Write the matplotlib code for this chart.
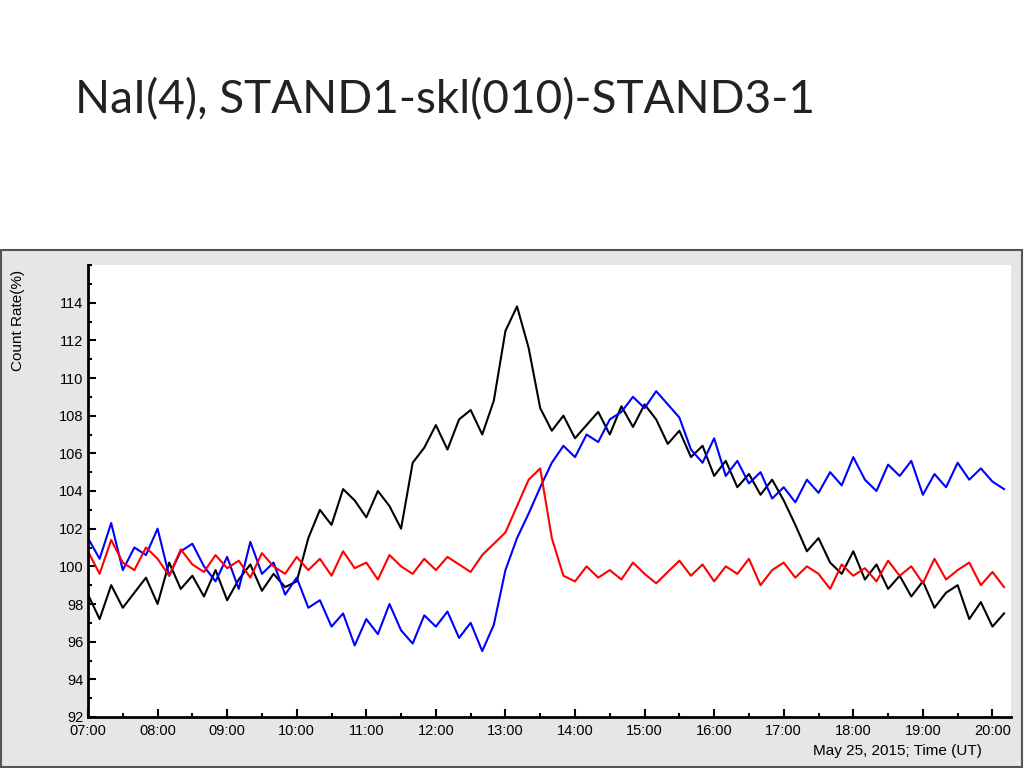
import matplotlib
matplotlib.use('Agg')
import matplotlib.pyplot as plt
import numpy as np
from matplotlib.patches import Rectangle
from matplotlib.ticker import MultipleLocator

plt.rcParams['font.family'] = ['Liberation Sans', 'DejaVu Sans']

# -----------------------------------------------------------------------------
# data: 10-minute samples, 07:00 .. 20:10 UT

t0, dt = 7.0, 10 / 60
black = [98.5, 97.2, 99.0, 97.8, 98.6, 99.4, 98.0, 100.2, 98.8, 99.5,
         98.4, 99.8, 98.2, 99.3, 100.1, 98.7, 99.6, 98.9, 99.2, 101.5,
         103.0, 102.2, 104.1, 103.5, 102.6, 104.0, 103.2, 102.0, 105.5, 106.3,
         107.5, 106.2, 107.8, 108.3, 107.0, 108.8, 112.5, 113.8, 111.6, 108.4,
         107.2, 108.0, 106.8, 107.5, 108.2, 107.0, 108.5, 107.4, 108.6, 107.8,
         106.5, 107.2, 105.8, 106.4, 104.8, 105.6, 104.2, 104.9, 103.8, 104.6,
         103.5, 102.2, 100.8, 101.5, 100.2, 99.6, 100.8, 99.3, 100.1, 98.8,
         99.5, 98.4, 99.2, 97.8, 98.6, 99.0, 97.2, 98.1, 96.8, 97.5]
blue = [101.5, 100.4, 102.3, 99.8, 101.0, 100.6, 102.0, 99.5, 100.8, 101.2,
        100.0, 99.2, 100.5, 98.8, 101.3, 99.6, 100.2, 98.5, 99.4, 97.8,
        98.2, 96.8, 97.5, 95.8, 97.2, 96.4, 98.0, 96.6, 95.9, 97.4,
        96.8, 97.6, 96.2, 97.0, 95.5, 96.9, 99.8, 101.5, 102.8, 104.2,
        105.5, 106.4, 105.8, 107.0, 106.6, 107.8, 108.2, 109.0, 108.4, 109.3,
        108.6, 107.9, 106.2, 105.5, 106.8, 104.8, 105.6, 104.4, 105.0, 103.6,
        104.2, 103.4, 104.6, 103.9, 105.0, 104.3, 105.8, 104.6, 104.0, 105.4,
        104.8, 105.6, 103.8, 104.9, 104.2, 105.5, 104.6, 105.2, 104.5, 104.1]
red = [100.8, 99.6, 101.4, 100.2, 99.8, 101.0, 100.4, 99.5, 100.9, 100.1,
       99.7, 100.6, 99.9, 100.3, 99.4, 100.7, 100.0, 99.6, 100.5, 99.8,
       100.4, 99.5, 100.8, 99.9, 100.2, 99.3, 100.6, 100.0, 99.6, 100.4,
       99.8, 100.5, 100.1, 99.7, 100.6, 101.2, 101.8, 103.2, 104.6, 105.2,
       101.5, 99.5, 99.2, 100.0, 99.4, 99.8, 99.3, 100.2, 99.6, 99.1,
       99.7, 100.3, 99.5, 100.1, 99.2, 100.0, 99.6, 100.4, 99.0, 99.8,
       100.2, 99.4, 100.0, 99.6, 98.8, 100.1, 99.5, 99.9, 99.2, 100.3,
       99.5, 100.0, 99.1, 100.4, 99.3, 99.8, 100.2, 99.0, 99.7, 98.9]
hours = t0 + dt * np.arange(len(black))
xticks = list(range(7, 21))
xticklabels = ['%02d:00' % h for h in xticks]

# -----------------------------------------------------------------------------
# plot

fig = plt.figure(figsize=(10.24, 7.68), dpi=100)
fig.patches.append(Rectangle((0.001, 0.001), 0.997, 0.673, transform=fig.transFigure,
                             facecolor='#e6e6e6', edgecolor='#555555', lw=1.5,
                             zorder=-10))
fig.text(75 / 1024, 1 - 100 / 768, 'NaI(4), STAND1-skl(010)-STAND3-1',
         family='Lato', fontsize=33, va='center', ha='left', color='#222222')

ax = fig.add_axes([88 / 1024, 51 / 768, 923 / 1024, 452 / 768])
ax.plot(hours, black, color='black', lw=1.5)
ax.plot(hours, blue, color='blue', lw=1.5)
ax.plot(hours, red, color='red', lw=1.5)

ax.set_xlim(7, 20 + 16 / 60)
ax.set_ylim(92, 116)
ax.set_xticks(xticks, xticklabels)
ax.xaxis.set_minor_locator(MultipleLocator(0.5))
ax.set_yticks(range(92, 115, 2))
ax.yaxis.set_minor_locator(MultipleLocator(1))
ax.tick_params(direction='in', labelsize=10.5, length=6, width=1.5)
ax.tick_params(axis='x', pad=5)
ax.tick_params(which='minor', direction='in', length=3, width=1.5)
for s in ['top', 'right']:
    ax.spines[s].set_visible(False)
for s in ['left', 'bottom']:
    ax.spines[s].set_linewidth(2)
fig.text(18 / 1024, 1 - 320 / 768, 'Count Rate(%)', rotation=90,
         fontsize=11, va='center', ha='center')
fig.text(982 / 1024, 1 - 751 / 768, 'May 25, 2015; Time (UT)',
         fontsize=11, va='center', ha='right')

fig.savefig('out.png')
